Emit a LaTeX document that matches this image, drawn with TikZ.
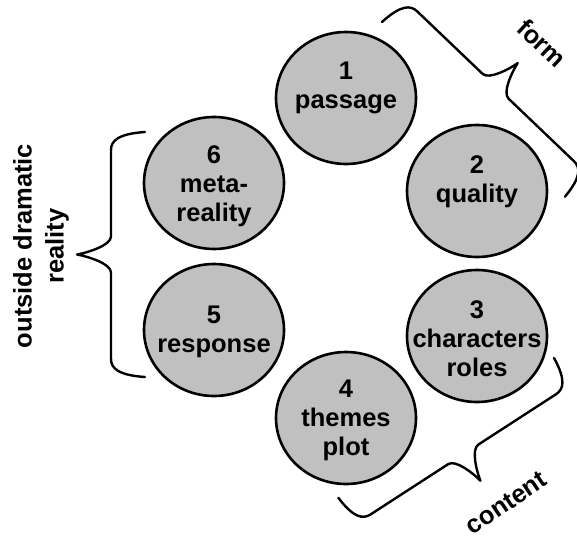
\documentclass[tikz,border=0pt]{standalone}
\usepackage{fontspec}
\setmainfont{Liberation Sans}
\usetikzlibrary{shapes.geometric}
\definecolor{cfill}{RGB}{192,192,192}
\tikzset{
  pics/curlybrace/.style n args={2}{code={
    \draw[bracestyle] (0,0) .. controls (1.8,{0.4*#2}) and (9,{0.5*#2}) .. (18,{0.5*#2})
      -- ({#1/2-18},{0.5*#2}) .. controls ({#1/2-9},{0.5*#2}) and ({#1/2-1.8},{0.85*#2}) .. ({#1/2},#2)
      .. controls ({#1/2+1.8},{0.85*#2}) and ({#1/2+9},{0.5*#2}) .. ({#1/2+18},{0.5*#2})
      -- ({#1-18},{0.5*#2}) .. controls ({#1-9},{0.5*#2}) and ({#1-1.8},{0.4*#2}) .. (#1,0);
  }}
}
\begin{document}
\begin{tikzpicture}[x=1pt,y=1pt,
  disc/.style={ellipse, draw, line width=2.6pt, fill=cfill, minimum width=140pt, minimum height=132pt, inner sep=0pt},
  lbl/.style={font=\bfseries\fontsize{25.5}{29}\selectfont, align=center, inner sep=0pt, anchor=north},
  bracestyle/.style={line width=2.4pt, line cap=round, line join=round},
  side/.style={font=\bfseries\fontsize{25.5}{32}\selectfont, align=center, inner sep=0pt}
]
\useasboundingbox (0,0) rectangle (577,-537);

\node[disc] (c1) at (346,-98) {};
\node[disc] (c2) at (477,-191) {};
\node[disc] (c3) at (477,-336) {};
\node[disc] (c4) at (346,-418) {};
\node[disc] (c5) at (214,-330) {};
\node[disc] (c6) at (214,-183) {};

\node[lbl] (t1) at (346,-62) {1\\passage};
\node[lbl] (t2) at (477,-155) {2\\quality};
\node[lbl] (t3) at (477,-300) {3\\characters\\roles};
\node[lbl] (t4) at (346,-380) {4\\themes\\plot};
\node[lbl] (t5) at (214,-306) {5\\response};
\node[lbl] (t6) at (214,-145) {6\\meta-\\reality};

\coordinate (bL) at (145,-377);
\coordinate (bF) at (382,-22);
\coordinate (bC) at (554,-358);
\pic[rotate=90] at (bL) {curlybrace={245}{68}};
\pic[rotate=-43.7] at (bF) {curlybrace={253}{64}};
\pic[rotate=-147.05] at (bC) {curlybrace={257}{63}};

\node[side, rotate=-43] (tf) at (542,-43) {form};
\node[side, rotate=34] (tc) at (506,-503) {content};
\node[side, rotate=90] (to) at (41,-246) {outside dramatic\\reality};
\end{tikzpicture}
\end{document}
